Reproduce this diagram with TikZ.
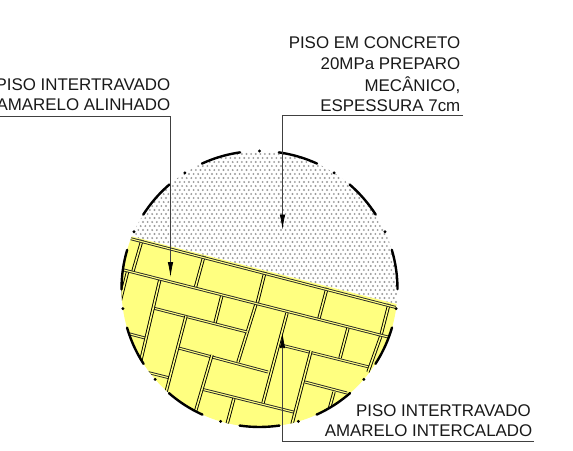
\documentclass[tikz,border=0pt]{standalone}
\usepackage{fontspec}
\setmainfont{Liberation Sans}
\usetikzlibrary{arrows.meta}
\definecolor{paver}{HTML}{FFFF80}
\definecolor{speck}{HTML}{999999}
\newcommand{\cx}{259.5}
\newcommand{\cy}{289}

\begin{document}
\begin{tikzpicture}[
x=1pt,
y=-1pt,
joint/.style={
	double=paver,
	double distance=1.5pt,
	line width=0.9pt,
	draw=black
},
course/.style={
	double=paver,
	double distance=1.1pt,
	line width=0.9pt,
	draw=black!85
},
rim/.style={
	line width=2.4pt,
	line cap=round,
	black
},
leader/.style={
	line width=0.75pt,
	draw=black!75
},
tip/.style={
	-{Latex[length=15pt,width=5.5pt,black]}
},
label/.style={
	anchor=base east,
	inner sep=0pt,
	font=\fontsize{16.9}{20}\selectfont,
	text=black!90
}
]
\useasboundingbox (0,0) rectangle (573,450);

% Fill
\begin{scope}
\clip (\cx,\cy) circle [radius=138];
\fill[paver] (110,230.8) -- (410,307.5) -- (410,440) -- (110,440) -- cycle;
\clip (110,230.8) -- (410,307.5) -- (410,130) -- (110,130) -- cycle;
\foreach \j in {0,...,42}{
	\foreach \i in {0,...,62}{
		\fill[speck] ({120+4.6*\i+2.3*mod(\j,2)},{150+4.0*\j}) circle [radius=1.05];
	}
}
\end{scope}

% Bricks
\begin{scope}
\clip (\cx,\cy) circle [radius=138];
% joints stopping on a course
\foreach \xa/\ya/\xb/\yb in {
	142/240/133/271, 204/256/195.5/287, 265/272/257/304,
	327/288/318.5/320, 389/304/380.5/337,
	128/270/119/306, 222/295/215/323,
	256/304/238/362, 348/328/340/358,
	234/398/226/428, 334/392/329/410
}{
	\draw[joint] (\xa,\ya) -- (\xb,\yb);
}
% courses stopping on a joint
\foreach \xa/\ya/\xb/\yb in {
	128/333.5/145/338, 148/372.5/170/378,
	178.5/348/268/372, 203/389.5/293.5/412,
	281/345/371/367.5, 305/382/347/393,
	153/308/247/332
}{
	\draw[course] (\xa,\ya) -- (\xb,\yb);
}
% long joints
\foreach \xa/\ya/\xb/\yb in {
	160/279/140/364, 186/316/165/396,
	287/313/263/403, 212/355/193/420,
	311/351/291/428, 380.5/337/368/372
}{
	\draw[joint] (\xa,\ya) -- (\xb,\yb);
}
% long courses
\draw[course] (128,238) -- (396,307.5);
\draw[course] (120,269) -- (392,338);
\end{scope}

% Rim
\foreach \k in {0,...,10}{
	\fill (\cx,\cy) ++ ({-90+32.727*\k}:138) circle [radius=1.6];
	\draw[rim] (\cx,\cy) ++ ({-90+32.727*\k+8.05}:138) arc [start angle={-90+32.727*\k+8.05}, end angle={-90+32.727*\k+24.65}, radius=138];
}

% Labels
\node[label] (concreto1) at (460.5,48.5) {PISO EM CONCRETO};
\node[label] (concreto2) at (460.5,69.5) {20MPa PREPARO};
\node[label] (concreto3) at (460.5,91.5) {MECÂNICO,};
\node[label] (concreto4) at (460.5,111.5) {ESPESSURA 7cm};
\node[label] (alinhado1) at (170.5,90) {PISO INTERTRAVADO};
\node[label] (alinhado2) at (170.5,110) {AMARELO ALINHADO};
\node[label] (intercalado1) at (531,416) {PISO INTERTRAVADO};
\node[label] (intercalado2) at (532.5,436) {AMARELO INTERCALADO};

% Leaders
\coordinate (alinhadoStart) at (0,116);
\coordinate (alinhadoBend) at (170.5,116);
\coordinate (alinhadoTip) at (170.5,277);
\coordinate (concretoStart) at (463,115.5);
\coordinate (concretoBend) at (282.5,115.5);
\coordinate (concretoTip) at (282.5,229.5);
\coordinate (intercaladoStart) at (534,441.5);
\coordinate (intercaladoBend) at (282.5,441.5);
\coordinate (intercaladoTip) at (282.5,333);
\draw[leader,tip] (alinhadoStart) -- (alinhadoBend) -- (alinhadoTip);
\draw[leader,tip] (concretoStart) -- (concretoBend) -- (concretoTip);
\draw[leader,tip] (intercaladoStart) -- (intercaladoBend) -- (intercaladoTip);

\end{tikzpicture}
\end{document}
